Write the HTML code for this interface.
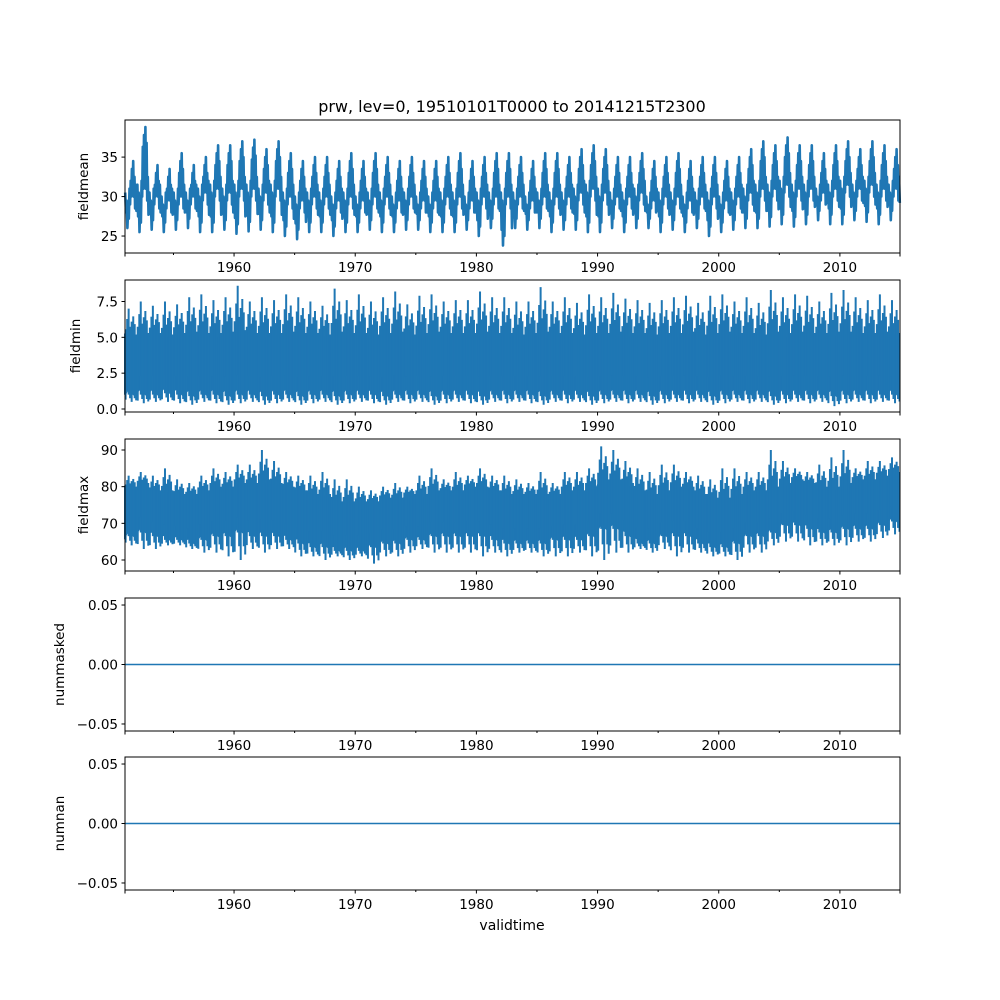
<!DOCTYPE html>
<html><head><meta charset="utf-8"><style>
body{margin:0;background:#fff}
svg{display:block;font-family:"DejaVu Sans","Liberation Sans",sans-serif}
</style></head><body>
<svg id="fig" width="1000" height="1000">
<rect width="1000" height="1000" fill="#fff"/>
<text x="512" y="112" font-size="16" text-anchor="middle">prw, lev=0, 19510101T0000 to 20141215T2300</text>
<text x="512" y="930" font-size="14" text-anchor="middle">validtime</text>
</svg>
<script>
const years = [];for(let y=1951;y<=2014;y++)years.push(y);
const xTicks=[1960,1970,1980,1990,2000,2010];
const minorTicks=[1955,1965,1975,1985,1995,2005];
// fieldmean
const meanHi=[34.5,38.8,34,33.5,35.5,34,35,36.5,36.5,37,37.2,36,37,35.5,34.5,35,35,34.5,35.5,34.5,35.5,35,34.5,35,34.5,34.5,35,35.5,34.5,35,35.5,35.5,35,34.5,35.5,35.5,35,36,36.5,36,35,35,35.5,34.5,35,35.5,34.5,35,35,34.5,35,36,37,36.5,37.5,36.5,36.5,35.5,36.5,37,36,37,36.5,36];
const meanMid=[30,31,30,29.5,30,30,30.5,31,30.5,31,31,30.5,31,30,29.5,30,30,29.5,30,29.5,30,30,29.5,30,29.5,29.5,30,30,29.5,30,30,30,30,29.5,30,30,30,30.5,31,30.5,30,30,30.5,29.5,30,30,29.5,30,30,29.5,30,30.5,31,31,31.5,31,31,30.5,31,31.5,31,31.5,31,31];
const meanLo=[26,25.5,25.8,25.5,25.8,26,25.5,25.5,25.8,25.3,25.6,25.8,25.5,25,24.6,25.5,25.5,25,25.5,25.5,25.8,25.5,25.5,25.8,25.8,25.5,25.5,25.5,25.8,25,26,23.8,26,25.8,26,25.5,25.8,25.8,25.5,25.5,26,25.5,26,26,25.5,25.8,25.5,26,25,25.5,25.8,26,26,26.2,26.5,26.2,26.5,27,26.5,26.5,27,26.8,26.5,27];
// fieldmin
const minHi=[7,7.5,7.2,7.5,7.3,7.8,8,7.6,7.8,8.6,7.5,7.8,7.6,8,7.8,7.5,7.2,8.4,7.6,8,7.5,7.8,8.2,7.3,7.9,8,7.5,7.6,7.6,8.2,7.8,7.8,7.5,7.5,8.5,7.5,7.8,7.4,8,7.8,8.1,7.7,7.6,7.4,7.6,7.8,7.9,7.4,7.9,8,7.5,7.8,7.4,8.3,7.8,8,7.9,7.5,8.1,8.3,7.8,7.6,8,7.6];
const minCoreHi=[5.2,5.3,5.3,5.2,5.3,5.4,5.3,5.3,5.4,5.5,5.3,5.3,5.3,5.4,5.3,5.3,5.2,5.4,5.3,5.3,5.2,5.3,5.4,5.2,5.3,5.4,5.3,5.3,5.3,5.4,5.3,5.3,5.2,5.3,5.4,5.3,5.3,5.2,5.3,5.3,5.4,5.3,5.3,5.2,5.3,5.3,5.4,5.2,5.3,5.4,5.3,5.3,5.2,5.4,5.3,5.4,5.3,5.3,5.4,5.4,5.3,5.3,5.4,5.3];
const minCoreLo=[1,1,1,1.1,1,0.9,1,1,0.9,1,1,0.9,1,1,0.9,1,1,0.9,1,1,1,0.9,1,1,1,0.9,1,1,1,0.9,1,1,1,1,0.9,1,1,1,0.9,1,1,1,1,0.9,1,1,1,1,0.9,1,1,1,1,0.9,1,1,1,1,0.9,1,1,1,1,1];
const minLo=[0.5,0.4,0.5,0.5,0.4,0.3,0.5,0.4,0.3,0.4,0.5,0.3,0.4,0.5,0.3,0.4,0.5,0.3,0.4,0.5,0.4,0.3,0.5,0.4,0.5,0.3,0.4,0.5,0.4,0.3,0.5,0.4,0.5,0.4,0.3,0.5,0.4,0.5,0.3,0.4,0.5,0.4,0.5,0.3,0.4,0.5,0.4,0.5,0.3,0.4,0.5,0.4,0.5,0.3,0.4,0.5,0.4,0.5,0.2,0.4,0.5,0.4,0.5,0.4];
// fieldmax
const maxHi=[83,84,83,85,82,81,83,85,84,86,86,90,87,84,83,83,84,82,82,80,79,80,81,80,83,85,82,84,83,85,83,83,82,81,84,81,84,84,85,91,90,87,85,84,86,86,84,83,82,85,85,84,84,90,87,85,84,86,88,90,85,87,87,88];
const maxCoreHi=[80,81,79,79,78,78,79,80,80,81,81,82,81,80,79,78,78,76,76,76,76,77,77,78,78,79,79,79,80,80,79,78,78,78,78,78,79,79,80,82,82,81,79,78,79,80,80,78,77,77,78,79,79,80,81,82,81,80,80,81,82,82,83,84];
const maxCoreLo=[66.5,67.5,66.5,65.5,65.5,64.5,65.5,66.5,66.5,67.5,66.5,66.5,66.5,65.5,64.5,63.5,63.5,62.5,62.5,62.5,63.5,64.5,64.5,65.5,65.5,66.5,66.5,66.5,66.5,66.5,65.5,64.5,64.5,64.5,64.5,65.5,65.5,65.5,66.5,68.5,68.5,66.5,64.5,64.5,66.5,66.5,66.5,64.5,63.5,63.5,64.5,66.5,66.5,67.5,69.5,69.5,68.5,67.5,67.5,68.5,68.5,68.5,69.5,70.5];
const maxLo=[64,63,63,64,64,63,62,62,61,60,63,62,63,63,61,61,60,61,60,61,59,61,61,62,63,62,62,62,62,61,62,61,62,62,61,61,61,62,61,60,62,62,63,62,63,61,62,62,61,61,60,62,62,64,65,65,64,64,64,64,65,65,66,67];
// nummasked / numnan
const zeroVals=[0,0];

const NS="http://www.w3.org/2000/svg";
const svg=document.getElementById('fig');
const X0=125,X1=900,T0=1951,T1=2014.96;
const xs=t=>X0+(t-T0)/(T1-T0)*(X1-X0);
const C="#1f77b4";
function mk(tag,attrs,parent){const e=document.createElementNS(NS,tag);for(const k in attrs)e.setAttribute(k,attrs[k]);(parent||svg).appendChild(e);return e;}
const fmtNum=s=>String(s).replace('-','\u2212');

function panel(name,top,bottom,ymin,ymax,yticks,fmt,ylabel,ylabX){
  const g=mk('g',{});
  
  
  const ys=v=>bottom-(v-ymin)/(ymax-ymin)*(bottom-top);
  return {g,ys,finish(){
    mk('rect',{x:X0,y:top,width:X1-X0,height:bottom-top,fill:'none',stroke:'#000','stroke-width':1},g);
    yticks.forEach(v=>{const y=ys(v);
      const t=mk('line',{x1:X0-3.5,x2:X0,y1:y,y2:y,stroke:'#000'},g);
      
      const l=mk('text',{x:X0-7,y:y+5,'font-size':13.5,'text-anchor':'end'},g);l.textContent=fmtNum(fmt(v));
      });
    [T0,T1].concat(xTicks).forEach(t=>{const x=xs(t);mk('line',{x1:x,x2:x,y1:bottom,y2:bottom+3.5,stroke:'#000'},g);});
    minorTicks.forEach(t=>{const x=xs(t);mk('line',{x1:x,x2:x,y1:bottom,y2:bottom+2,stroke:'#000'},g);});
    xTicks.forEach(t=>{const l=mk('text',{x:xs(t),y:bottom+19,'font-size':13.5,'text-anchor':'middle'},g);l.textContent=t;
      });
    const yl=mk('text',{transform:`translate(${ylabX},${(top+bottom)/2}) rotate(-90)`,'font-size':13.5,'text-anchor':'middle'},g);
    yl.textContent=ylabel;
    
  }};
}

// Panel 1 fieldmean
{const p=panel('fieldmean',120,253,22.85,39.7,[25,30,35],v=>v,'fieldmean',88);
 let pts=[];years.forEach((y,i)=>{
   const hi=meanHi[i],mid=meanMid[i],lo=meanLo[i];
   pts.push([y+0.02,mid+0.5],[y+0.08,lo+2],[y+0.13,mid-0.5],[y+0.2,lo],[y+0.26,mid-1.5],[y+0.31,lo+1.2],[y+0.37,mid+1],[y+0.42,mid-1],[y+0.47,hi-2.5],[y+0.52,mid],[y+0.57,hi-1],[y+0.62,mid+0.5],[y+0.68,hi],[y+0.73,mid],[y+0.78,hi-2],[y+0.83,mid-1.5],[y+0.88,mid+1.5],[y+0.94,lo+2.2]);});
 const d=pts.filter(q=>q[0]<=T1).map((q,i)=>(i?'L':'M')+xs(q[0]).toFixed(1)+','+p.ys(q[1]).toFixed(1)).join('');
 const s=mk('path',{d,fill:'none',stroke:C,'stroke-width':2.6,'stroke-linejoin':'round'},p.g);
 
 p.finish();}

// generic dense band panel
function band(p,hi,cHi,cLo,lo,name){
  let top=[],bot=[];
  years.forEach((y,i)=>{top.push([y+0.25,cHi[i]],[y+0.75,cHi[i]-0.12*(cHi[i]-cLo[i])]);bot.push([y+0.25,cLo[i]+0.1*(cHi[i]-cLo[i])],[y+0.75,cLo[i]]);});
  const all=top.concat(bot.reverse());
  let d='M'+X0+','+p.ys(cHi[0])+all.map(q=>'L'+xs(Math.min(q[0],T1)).toFixed(1)+','+p.ys(q[1]).toFixed(1)).join('')+'L'+X0+','+p.ys(cLo[0])+'Z';
  const b=mk('path',{d,fill:C,stroke:C,'stroke-width':2},p.g);
  
  years.forEach((y,i)=>{
    const r=cHi[i]-cLo[i];
    [[0.3,hi[i],cLo[i]],[0.55,(hi[i]+cHi[i])/2,lo[i]],[0.8,cHi[i]+(hi[i]-cHi[i])*0.4,(lo[i]+cLo[i])/2],[0.05,cHi[i]+(hi[i]-cHi[i])*0.2,lo[i]+(cLo[i]-lo[i])*0.3],
     [0.18,cHi[i]+(hi[i]-cHi[i])*0.6,cLo[i]+0.3*r],[0.42,cHi[i]+(hi[i]-cHi[i])*0.3,lo[i]+(cLo[i]-lo[i])*0.5],[0.68,cHi[i]+(hi[i]-cHi[i])*0.7,cLo[i]],[0.92,cHi[i],lo[i]+(cLo[i]-lo[i])*0.2]].forEach(s=>{
      const x=xs(Math.min(y+s[0],T1));
      const l=mk('line',{x1:x,x2:x,y1:p.ys(s[1]),y2:p.ys(s[2]),stroke:C,'stroke-width':2},p.g);
      });
  });
}
{const p=panel('fieldmin',280,412,-0.21,9.0,[0,2.5,5,7.5],v=>v.toFixed(1),'fieldmin',80);
 band(p,minHi,minCoreHi,minCoreLo,minLo,'fieldmin');p.finish();}
{const p=panel('fieldmax',439,571,57,93,[60,70,80,90],v=>v,'fieldmax',88);
 band(p,maxHi,maxCoreHi,maxCoreLo,maxLo,'fieldmax');p.finish();}
{const p=panel('nummasked',598,731,-0.0559,0.0559,[-0.05,0,0.05],v=>v.toFixed(2),'nummasked',64);
 const l=mk('line',{x1:xs(T0),x2:xs(T1),y1:p.ys(zeroVals[0]),y2:p.ys(zeroVals[1]),stroke:C,'stroke-width':1.5},p.g);
 p.finish();}
{const p=panel('numnan',757,890,-0.0559,0.0559,[-0.05,0,0.05],v=>v.toFixed(2),'numnan',64);
 const l=mk('line',{x1:xs(T0),x2:xs(T1),y1:p.ys(zeroVals[0]),y2:p.ys(zeroVals[1]),stroke:C,'stroke-width':1.5},p.g);
 p.finish();}
</script>
</body></html>
